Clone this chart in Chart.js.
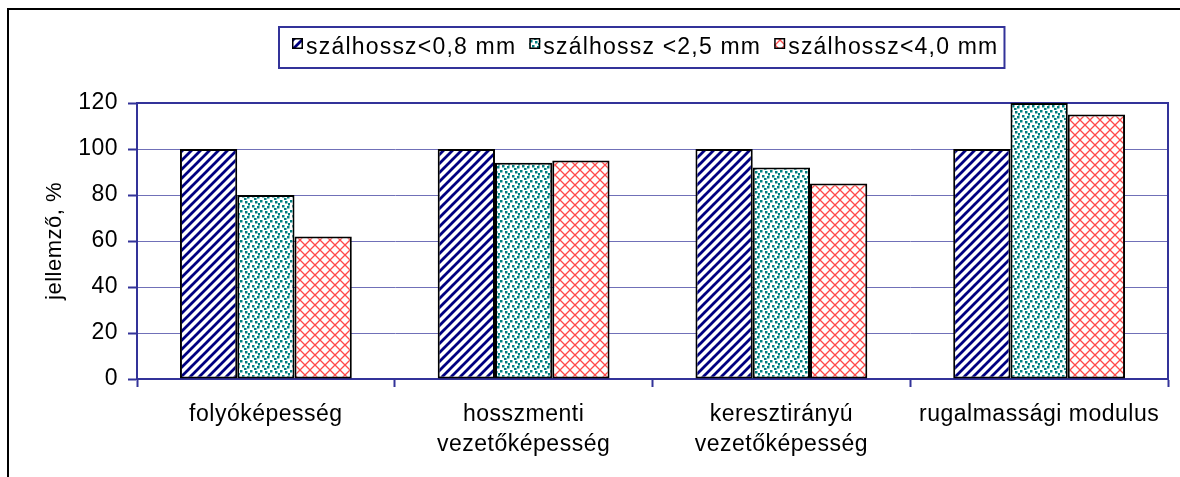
<!DOCTYPE html>
<html>
<head>
<meta charset="utf-8">
<script src="https://cdn.jsdelivr.net/npm/chart.js@4/dist/chart.umd.min.js"></script>
<style>
html, body { margin: 0; padding: 0; background: #fff; }
canvas { display: block; }
</style>
</head>
<body>
<canvas id="chart" width="1180" height="477"></canvas>
<script>
var categories = [["folyóképesség"], ["hosszmenti", "vezetőképesség"], ["keresztirányú", "vezetőképesség"], ["rugalmassági modulus"]];
var seriesNames = ["szálhossz<0,8 mm", "szálhossz <2,5 mm", "szálhossz<4,0 mm"];
var shortFiber = [100, 100, 100, 100];
var midFiber = [80, 94, 92, 120];
var longFiber = [62, 95, 85, 115];
var yTicks = [0, 20, 40, 60, 80, 100, 120];
var yTitle = "jellemző, %";

var FONT = "'Liberation Sans', Arial, sans-serif";
var AXIS_BLUE = '#333399';
var SPACING = '0.5px';

function makeTile(size, paint) {
    var c = document.createElement('canvas');
    c.width = size; c.height = size;
    var g = c.getContext('2d');
    g.fillStyle = '#fff';
    g.fillRect(0, 0, size, size);
    paint(g, size);
    return g.createPattern(c, 'repeat');
}

// navy "/" stripes
var stripes = makeTile(9, function (g, s) {
    g.strokeStyle = '#000080';
    g.lineWidth = 2.8;
    g.beginPath();
    g.moveTo(-2, s + 2); g.lineTo(s + 2, -2);
    g.moveTo(-2, 2); g.lineTo(2, -2);
    g.moveTo(s - 2, s + 2); g.lineTo(s + 2, s - 2);
    g.stroke();
});

// teal dots
var dots = makeTile(10, function (g, s) {
    g.fillStyle = '#008080';
    [[0, 0], [5, 1], [2, 5], [7, 6], [8, 3], [4, 8]].forEach(function (p) {
        g.fillRect(p[0], p[1], 2.5, 2.5);
    });
});

// red diagonal cross hatch
var hatch = makeTile(10, function (g, s) {
    g.strokeStyle = '#ff4a4a';
    g.lineWidth = 1.3;
    g.beginPath();
    g.moveTo(0, 0); g.lineTo(s, s);
    g.moveTo(0, s); g.lineTo(s, 0);
    g.stroke();
});

var fills = [stripes, dots, hatch];

Chart.defaults.font.family = FONT;
Chart.defaults.font.size = 23;
Chart.defaults.color = '#000';

var framePlugin = {
    id: 'frame',
    beforeDraw: function (chart) {
        var ctx = chart.ctx;
        ctx.save();
        ctx.fillStyle = '#fff';
        ctx.fillRect(0, 0, chart.width, chart.height);
        ctx.strokeStyle = '#000';
        ctx.lineWidth = 2;
        ctx.strokeRect(8, 9, chart.width + 20, chart.height + 20);
        ctx.restore();
        ctx.letterSpacing = SPACING;
    },
    beforeDatasetsDraw: function (chart) {
        var a = chart.chartArea;
        var ctx = chart.ctx;
        ctx.save();
        ctx.strokeStyle = AXIS_BLUE;
        ctx.lineWidth = 2;
        ctx.beginPath();
        ctx.moveTo(a.left, a.top);
        ctx.lineTo(a.right, a.top);
        ctx.lineTo(a.right, a.bottom);
        ctx.stroke();
        ctx.restore();
    },
    afterDraw: function (chart) {
        var ctx = chart.ctx;
        ctx.save();
        ctx.font = '23px ' + FONT;
        ctx.letterSpacing = '1.2px';
        var widths = seriesNames.map(function (n) { return ctx.measureText(n).width; });
        var sq = 11, gapSq = 3, gapItem = 13, padL = 13, padR = 6;
        var total = padL + padR + widths.reduce(function (s, w) { return s + w; }, 0) + seriesNames.length * (sq + gapSq) + (seriesNames.length - 1) * gapItem;
        var left = Math.round(641.5 - total / 2);
        var top = 27, h = 41;
        ctx.fillStyle = '#fff';
        ctx.fillRect(left, top, total, h);
        ctx.strokeStyle = AXIS_BLUE;
        ctx.lineWidth = 2;
        ctx.strokeRect(left, top, total, h);
        var x = left + padL;
        seriesNames.forEach(function (n, i) {
            ctx.fillStyle = fills[i];
            ctx.fillRect(x, 38, sq, sq);
            ctx.strokeStyle = '#000';
            ctx.lineWidth = 1.5;
            ctx.strokeRect(x + 0.75, 38.75, sq - 1.5, sq - 1.5);
            x += sq + gapSq;
            ctx.fillStyle = '#000';
            ctx.textBaseline = 'alphabetic';
            ctx.fillText(n, x, 54);
            x += widths[i] + gapItem;
        });
        ctx.restore();
        ctx.letterSpacing = '0px';
    }
};

var datasets = [shortFiber, midFiber, longFiber].map(function (vals, i) {
    return {
        label: seriesNames[i],
        data: vals,
        backgroundColor: fills[i],
        borderColor: '#000',
        borderWidth: 2,
        borderSkipped: false,
        categoryPercentage: 3 / 4.5,
        barPercentage: 1.0
    };
});

var chart = new Chart(document.getElementById('chart').getContext('2d'), {
    type: 'bar',
    data: { labels: categories, datasets: datasets },
    options: {
        responsive: false,
        animation: false,
        devicePixelRatio: 1,
        layout: { padding: { left: 42, right: 12, top: 103, bottom: 18 } },
        plugins: {
            legend: { display: false },
            tooltip: { enabled: false }
        },
        scales: {
            x: {
                grid: {
                    offset: true,
                    drawOnChartArea: false,
                    tickLength: 8,
                    color: AXIS_BLUE,
                    tickColor: AXIS_BLUE,
                    tickWidth: 2
                },
                border: { color: AXIS_BLUE, width: 2 },
                ticks: {
                    maxRotation: 0,
                    autoSkip: false,
                    padding: 13,
                    font: { size: 23, lineHeight: 1.3 }
                },
                afterFit: function (scale) { scale.height = 80; }
            },
            y: {
                min: yTicks[0],
                max: yTicks[yTicks.length - 1],
                afterBuildTicks: function (scale) {
                    scale.ticks = yTicks.map(function (v) { return { value: v }; });
                },
                grid: {
                    color: '#7070b8',
                    lineWidth: 1,
                    tickLength: 9,
                    tickColor: AXIS_BLUE,
                    tickWidth: 2
                },
                border: { color: AXIS_BLUE, width: 2 },
                ticks: { padding: 10, font: { size: 23 } },
                title: {
                    display: true,
                    text: yTitle,
                    padding: { top: 0, bottom: 0 },
                    font: { size: 22 }
                },
                afterFit: function (scale) { scale.width = 95; }
            }
        }
    },
    plugins: [framePlugin]
});
</script>
</body>
</html>
